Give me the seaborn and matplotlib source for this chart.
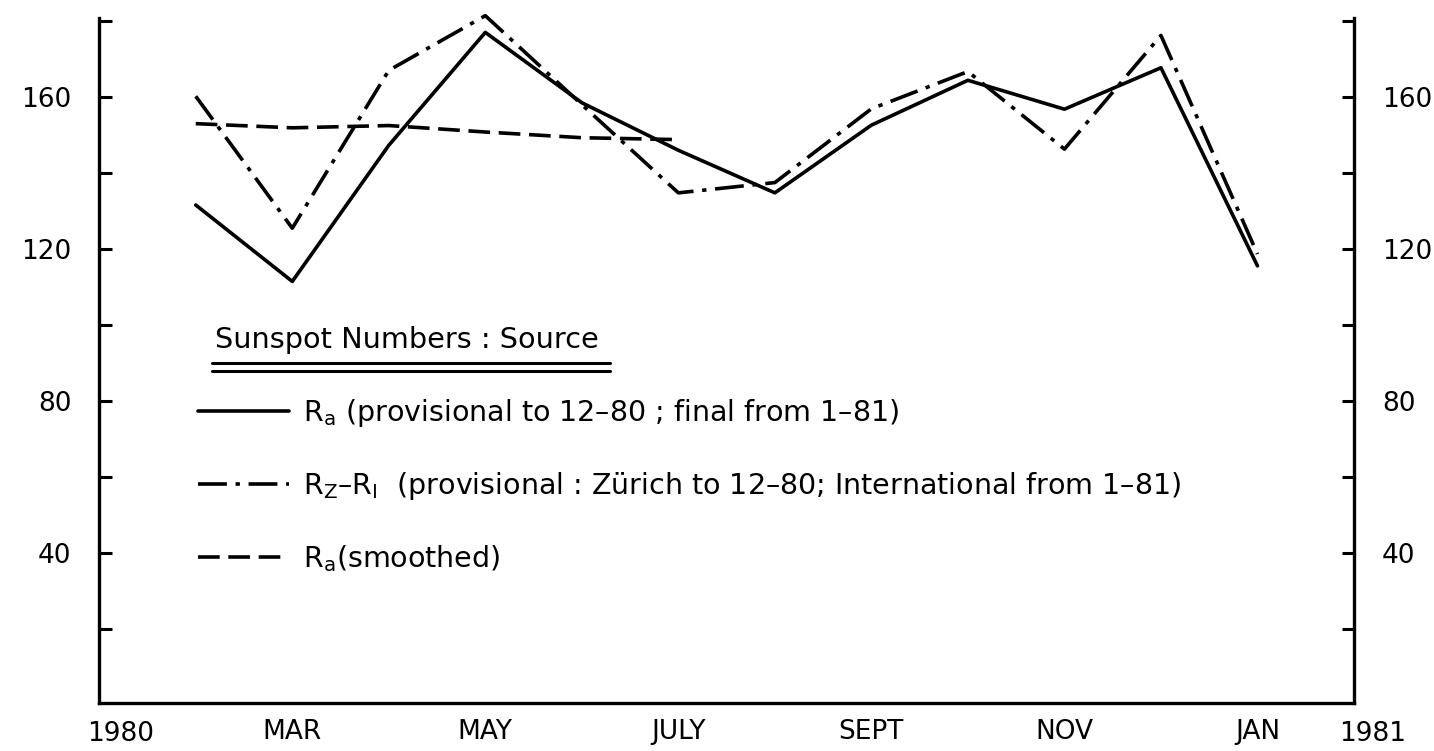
import matplotlib
matplotlib.use('Agg')
import matplotlib.pyplot as plt
import pandas as pd
import seaborn as sns

# month index: 1 = Jan 1980 ... 13 = Jan 1981, 14 = right edge
months = [2, 3, 4, 5, 6, 7, 8, 9, 10, 11, 12, 13]
ra_prov = [131.6, 111.5, 147.3, 177.0, 158.5, 146.0, 134.8, 152.6, 164.4, 156.8, 167.7, 115.6]
rz_ri = [160.2, 125.5, 167.0, 181.4, 158.0, 134.8, 137.5, 156.9, 166.7, 146.3, 176.2, 118.7]
smooth_months = [2, 3, 4, 5, 6, 7]
ra_smooth = [153.0, 151.9, 152.5, 150.8, 149.3, 148.8]

month_ticks = [2, 3, 4, 5, 6, 7, 8, 9, 10, 11, 12, 13]
month_labels = ['', 'MAR', '', 'MAY', '', 'JULY', '', 'SEPT', '', 'NOV', '', 'JAN']
y_ticks = [20, 40, 60, 80, 100, 120, 140, 160, 180]
y_labels = ['', '40', '', '80', '', '120', '', '160', '']

legend_labels = [
    r'$\mathregular{R_a}$ (provisional to 12–80 ; final from 1–81)',
    r'$\mathregular{R_Z}$–$\mathregular{R_I}$  (provisional : Zürich to 12–80; International from 1–81)',
    r'$\mathregular{R_a}$(smoothed)',
]

sns.set_style('white')
plt.rcParams['font.family'] = ['DejaVu Sans']
plt.rcParams['text.color'] = 'black'
plt.rcParams['xtick.color'] = 'black'
plt.rcParams['ytick.color'] = 'black'

data = pd.concat([
    pd.DataFrame({'month': months, 'value': ra_prov, 'series': 'Ra'}),
    pd.DataFrame({'month': months, 'value': rz_ri, 'series': 'Rz'}),
    pd.DataFrame({'month': smooth_months, 'value': ra_smooth, 'series': 'smooth'}),
])

fig = plt.figure(figsize=(14.34, 7.51), dpi=100)
ax = fig.add_axes([0.0692, 0.0643, 0.9442 - 0.0692, 0.9756 - 0.0643])

lw = 2.6
sns.lineplot(data, x='month', y='value', style='series',
             style_order=['Ra', 'Rz', 'smooth'],
             dashes={'Ra': '', 'Rz': (8, 2.4, 1.2, 2.4), 'smooth': (6, 2.4)},
             color='black', lw=lw, legend=False, ax=ax, clip_on=False)

ax.set_xlim(1, 14)
ax.set_ylim(0.7, 180.7)
ax.set_xlabel('')
ax.set_ylabel('')

for s in ['left', 'right', 'bottom']:
    ax.spines[s].set_linewidth(2.4)
    ax.spines[s].set_color('black')
ax.spines['top'].set_visible(False)

ax.set_xticks(month_ticks)
ax.set_xticklabels(month_labels)
ax.set_yticks(y_ticks)
ax.set_yticklabels(y_labels)
ax.tick_params(axis='x', direction='in', length=9, width=2.2, pad=12, labelsize=19)
ax.tick_params(axis='y', direction='in', length=9, width=2.2, labelsize=19,
               left=True, right=True, labelleft=True, labelright=True)
for t in ax.yaxis.get_major_ticks():
    t.tick1line.set_markersize(9)
ax.tick_params(axis='y', which='major', pad=20)

# year markers at both ends of the time axis
xt = ax.get_xaxis_transform()
ax.text(1.22, -0.027, '1980', transform=xt, ha='center', va='top', fontsize=19)
ax.text(14.19, -0.027, '1981', transform=xt, ha='center', va='top', fontsize=19, clip_on=False)

# key
ax.text(0.0922, 0.530, 'Sunspot Numbers : Source', transform=ax.transAxes,
        ha='left', va='center', fontsize=20.7)
for yy in [0.4963, 0.4847]:
    ax.plot([0.0898, 0.4070], [yy, yy], transform=ax.transAxes, color='black', lw=2.2)

ax.legend(handles=ax.lines[:3], labels=legend_labels, loc='upper left',
          bbox_to_anchor=(0.0787, 0.447), frameon=False, fontsize=20.5,
          handlelength=3.2, handletextpad=0.5, labelspacing=1.45, borderpad=0,
          borderaxespad=0)

fig.savefig('out.png', dpi=100)
